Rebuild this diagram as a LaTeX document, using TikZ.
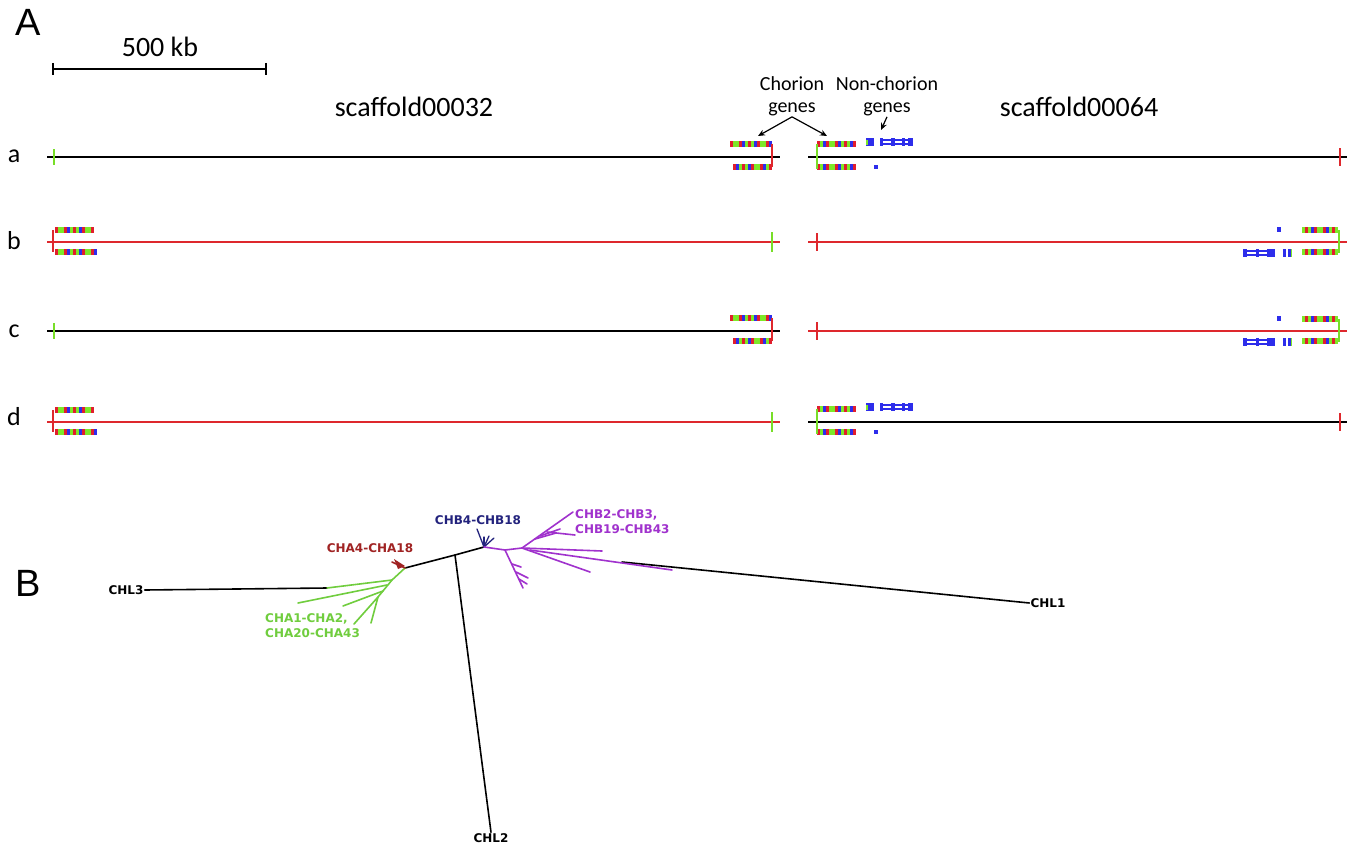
\documentclass[tikz,border=0pt]{standalone}
\usepackage{fontspec}
\setmainfont{Carlito}
\newfontfamily\arialf{Liberation Sans}
\newfontfamily\dejaf{DejaVu Sans}
\usetikzlibrary{arrows.meta}
\definecolor{gR}{RGB}{225,30,45}
\definecolor{gG}{RGB}{125,232,40}
\definecolor{gB}{RGB}{45,45,235}
\definecolor{lineR}{RGB}{222,40,45}
\definecolor{tickG}{RGB}{120,222,40}
\definecolor{trG}{RGB}{112,205,62}
\definecolor{trP}{RGB}{160,50,205}
\definecolor{trN}{RGB}{35,35,125}
\definecolor{trR}{RGB}{160,35,35}
\newcommand\gbar[3]{%
  \pgfmathtruncatemacro\gn{round((#2-#1)/3)-1}%
  \foreach \gi in {0,...,\gn}{%
    \pgfmathtruncatemacro\gc{mod(\gi+#1,9)}%
    \ifcase\gc\def\gcol{gB}\or\def\gcol{gR}\or\def\gcol{gG}\or\def\gcol{gG}\or\def\gcol{gR}\or\def\gcol{gB}\or\def\gcol{gG}\or\def\gcol{gR}\else\def\gcol{gG}\fi
    \fill[\gcol] ({#1+3*\gi},{#3-2.7}) rectangle ++(3,5.4);
  }%
}
% left scaffold, right-end chorion cluster
\newcommand\chorR[1]{%
  \gbar{730}{772}{#1-13}
  \gbar{733}{772}{#1+10}
  \draw[lineR, line width=1.6pt] (772,{#1-13}) -- (772,{#1+10});
}
% right scaffold, left-end cluster with non-chorion genes
\newcommand\chorL[1]{%
  \gbar{817}{856}{#1-13}
  \gbar{817}{856}{#1+10}
  \draw[tickG, line width=1.6pt] (817,{#1-13}) -- (817,{#1+12});
  \fill[gB] (866,{#1-19}) rectangle (874,{#1-11});
  \fill[gG] (866,{#1-17}) rectangle (867.5,{#1-12});
  \fill[gB] (880,{#1-19}) rectangle (883,{#1-11});
  \fill[gB] (891,{#1-19}) rectangle (895,{#1-11});
  \fill[gB] (902,{#1-19}) rectangle (905,{#1-11});
  \fill[gB] (908,{#1-19}) rectangle (913,{#1-11});
  \draw[gB, line width=1.3pt] (883,{#1-17}) -- (908,{#1-17}) (883,{#1-13}) -- (908,{#1-13});
  \fill[gB] (874,{#1+8}) rectangle (878,{#1+12});
}
% left scaffold, left-end cluster
\newcommand\leftclus[1]{%
  \gbar{55}{95}{#1-12}
  \gbar{55}{97}{#1+10}
  \draw[lineR, line width=1.6pt] (53,{#1-12}) -- (53,{#1+10});
}
% right scaffold, right-end cluster
\newcommand\rightclus[1]{%
  \gbar{1302}{1338}{#1-12}
  \gbar{1302}{1338}{#1+10}
  \draw[tickG, line width=1.6pt] (1339,{#1-12}) -- (1339,{#1+11});
  \fill[gB] (1277,{#1-15}) rectangle (1281,{#1-10});
  \fill[gB] (1243,{#1+7}) rectangle (1247,{#1+15});
  \fill[gB] (1256,{#1+7}) rectangle (1259,{#1+15});
  \fill[gB] (1267,{#1+7}) rectangle (1275,{#1+15});
  \draw[gB, line width=1.3pt] (1247,{#1+9}) -- (1267,{#1+9}) (1247,{#1+13}) -- (1267,{#1+13});
  \fill[gB] (1283,{#1+7}) rectangle (1286,{#1+15});
  \fill[gB] (1288,{#1+7}) rectangle (1291,{#1+15});
  \draw[gG, line width=0.8pt] (1291.5,{#1+7}) -- (1291.5,{#1+15});
}
\begin{document}
\begin{tikzpicture}[x=1pt,y=-1pt,
  lw/.style={line width=1.6pt},
  tick/.style={line width=2.2pt},
  lbl/.style={font=\fontsize{28}{30}\selectfont, inner sep=1pt},
  rowlbl/.style={font=\fontsize{26}{28}\selectfont, anchor=base, inner sep=0pt},
  small/.style={font=\fontsize{20}{22}\selectfont, align=center, inner sep=1pt},
  tl/.style={font=\dejaf\bfseries\fontsize{12}{15}\selectfont, inner sep=1pt},
  tr/.style={line width=1.6pt, line cap=round, line join=round}]
\useasboundingbox (0,0) rectangle (1356,851);
\fill[white] (0,0) rectangle (1356,851);

% panel letters
\node[font=\arialf\fontsize{38}{40}\selectfont, inner sep=0pt] (pA) at (28,22) {A};
\node[font=\arialf\fontsize{38}{40}\selectfont, inner sep=0pt] (pB) at (28,583) {B};

% scale bar
\coordinate (sb1) at (53,69);
\coordinate (sb2) at (266,69);
\draw[line width=1.3pt] (sb1) -- (sb2);
\draw[line width=1.3pt] (53,63) -- (53,75) (266,63) -- (266,75);
\node[lbl] (sbl) at (160,47) {500 kb};

% titles
\node[lbl] (s32) at (414,107) {scaffold00032};
\node[lbl] (s64) at (1079,107) {scaffold00064};
\node[small] (chor) at (792,96) {Chorion\\genes};
\node[small] (nchor) at (887,96) {Non-chorion\\genes};
\coordinate (ca1) at (758,136);
\coordinate (ca2) at (827,136);
\coordinate (nc1) at (881,130);
\draw[line width=1.2pt, -{Stealth[length=7pt,width=6pt]}] (chor.south) -- (ca1);
\draw[line width=1.2pt, -{Stealth[length=7pt,width=6pt]}] (chor.south) -- (ca2);
\draw[line width=1.2pt, -{Stealth[length=7pt,width=6pt]}] (nchor.south) -- (nc1);

% row labels
\node[rowlbl] (ra) at (14,162) {a};
\node[rowlbl] (rb) at (14,249) {b};
\node[rowlbl] (rc) at (14,337) {c};
\node[rowlbl] (rd) at (14,425) {d};

% row a
\draw[lw, black] (47,157) -- (780,157);
\draw[tick, tickG] (54,149) -- (54,165);
\chorR{157}
\draw[lw, black] (808,157) -- (1347,157);
\draw[tick, lineR] (1340,148) -- (1340,166);
\chorL{157}

% row b
\draw[lw, lineR] (47,242) -- (780,242);
\leftclus{242}
\draw[tick, tickG] (772,232) -- (772,252);
\draw[lw, lineR] (808,242) -- (1347,242);
\draw[tick, lineR] (817,233) -- (817,251);
\rightclus{242}

% row c
\draw[lw, black] (47,331) -- (780,331);
\draw[tick, tickG] (54,323) -- (54,339);
\chorR{331}
\draw[lw, lineR] (808,331) -- (1347,331);
\draw[tick, lineR] (817,322) -- (817,340);
\rightclus{331}

% row d
\draw[lw, lineR] (47,422) -- (780,422);
\leftclus{422}
\draw[tick, tickG] (772,412) -- (772,432);
\draw[lw, black] (808,422) -- (1347,422);
\draw[tick, lineR] (1340,413) -- (1340,431);
\chorL{422}

% ---------- tree ----------
\node[tl] (chl3) at (126,590) {CHL3};
\node[tl] (chl1) at (1048,603) {CHL1};
\node[tl] (chl2) at (491,838) {CHL2};
\node[tl, text=trN] (lbn) at (478,520) {CHB4-CHB18};
\node[tl, text=trP, align=left, anchor=west] (lbp) at (574,522) {CHB2-CHB3,\\CHB19-CHB43};
\node[tl, text=trR] (lar) at (370,548) {CHA4-CHA18};
\node[tl, text=trG, align=left, anchor=west] (lag) at (264,626) {CHA1-CHA2,\\CHA20-CHA43};

\coordinate (g0) at (405,568);
\coordinate (k1) at (455,555);
\coordinate (k2) at (484,547);
\coordinate (c3e) at (327,588);
\coordinate (c1s) at (622,562);
% black backbone
\draw[tr, black] (chl3.east) -- (c3e);
\draw[tr, black] (g0) -- (k1) -- (k2);
\draw[tr, black] (k1) -- (chl2.north);
\draw[tr, black] (c1s) -- (chl1.west);
% green subtree
\draw[tr, trG] (g0) -- (392,580) -- (378,597) -- (354,624);
\draw[tr, trG] (392,580) -- (c3e);
\draw[tr, trG] (387,585) -- (298,603);
\draw[tr, trG] (383,591) -- (343,606);
\draw[tr, trG] (378,597) -- (371,623);
% red
\draw[tr, trR] (g0) -- (392,562);
\fill[trR] (394,559) -- (405,566) -- (398,569) -- cycle;
% navy
\draw[tr, trN, line width=1.3pt] (k2) -- (477,529);
\draw[tr, trN, line width=1.3pt] (k2) -- (484,537);
\draw[tr, trN, line width=1.3pt] (k2) -- (489,536);
\draw[tr, trN, line width=1.3pt] (k2) -- (494,538);
% purple
\draw[tr, trP] (k2) -- (505,550) -- (522,548);
\draw[tr, trP] (522,548) -- (573,512);
\draw[tr, trP] (540,536) -- (560,529);
\draw[tr, trP] (547,532) -- (575,535);
\draw[tr, trP] (535,539) -- (556,533);
\draw[tr, trP] (522,548) -- (602,551);
\draw[tr, trP] (522,548) -- (590,572);
\draw[tr, trP] (530,550) -- (672,570);
\draw[tr, trP] (505,550) -- (523,588);
\draw[tr, trP] (512,564) -- (521,567);
\draw[tr, trP] (516,572) -- (528,578);
\draw[tr, trP] (519,579) -- (527,584);
\end{tikzpicture}
\end{document}
